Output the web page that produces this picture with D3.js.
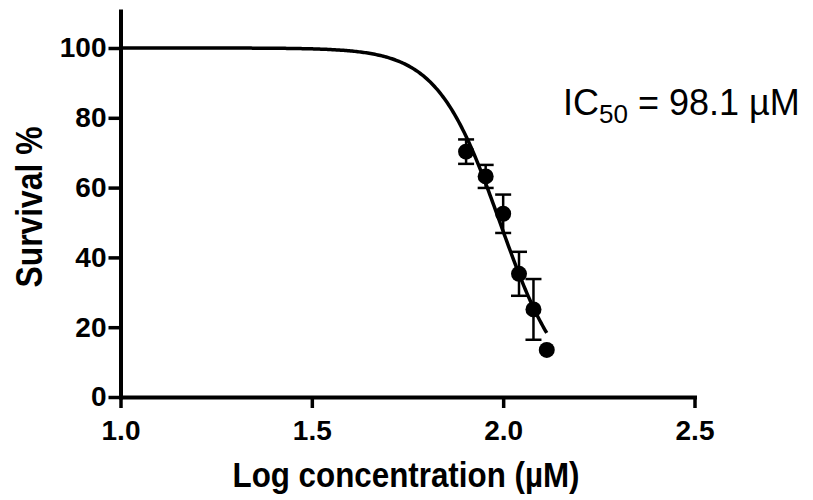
<!DOCTYPE html>
<html>
<head>
<meta charset="utf-8">
<script src="https://cdn.jsdelivr.net/npm/d3@7/dist/d3.min.js"></script>
<style>
  html, body { margin: 0; padding: 0; background: #fff; }
  svg { display: block; }
  text { font-family: "Liberation Sans", Arial, Helvetica, sans-serif; fill: #000; }
</style>
</head>
<body>
<svg id="chart" width="813" height="500"></svg>
<script>
// Tested concentrations (µM) and mean survival with SEM
const concentrations = [80, 90, 100, 110, 120, 130];
const survival = [70.3, 63.2, 52.5, 35.3, 25.1, 13.5];
const sem = [3.5, 3.3, 5.5, 6.3, 8.7, 0];

// Axis ticks
const xTicks = [1.0, 1.5, 2.0, 2.5];
const yTicks = [0, 20, 40, 60, 80, 100];

// Fitted dose-response parameters (four-parameter logistic)
const ic50 = 98.1;      // µM
const hillSlope = 5.3;
const topPlateau = 100;
const bottomPlateau = 0;

const svg = d3.select("#chart");

const x = d3.scaleLinear().domain([1.0, 2.5]).range([120.5, 694.5]);
const y = d3.scaleLinear().domain([0, 110.6]).range([397, 11]);

const logIC50 = Math.log10(ic50);
const response = lx => bottomPlateau + (topPlateau - bottomPlateau) /
  (1 + Math.pow(10, (lx - logIC50) * hillSlope));

// X axis
const xAxis = svg.append("g")
  .attr("transform", `translate(0,${y(0)})`)
  .call(d3.axisBottom(x).tickValues(xTicks).tickFormat(d3.format(".1f"))
    .tickSizeInner(11).tickSizeOuter(0).tickPadding(12));

// Y axis
const yAxis = svg.append("g")
  .attr("transform", `translate(${x(1.0)},0)`)
  .call(d3.axisLeft(y).tickValues(yTicks).tickFormat(d3.format("d"))
    .tickSizeInner(12).tickSizeOuter(0).tickPadding(2));

[xAxis, yAxis].forEach(g => {
  g.select(".domain").attr("stroke", "#000").attr("stroke-width", 4)
    .attr("stroke-linecap", "square");
  g.selectAll(".tick line").attr("stroke", "#000").attr("stroke-width", 3.5);
  g.selectAll(".tick text")
    .attr("font-family", "Liberation Sans, Arial, sans-serif")
    .attr("font-size", 28).attr("font-weight", "bold").attr("fill", "#000");
});

// Fitted curve across the tested range
const lxMin = 1.0, lxMax = Math.log10(d3.max(concentrations));
const curvePts = d3.range(0, 301).map(i => {
  const lx = lxMin + (lxMax - lxMin) * i / 300;
  return [lx, response(lx)];
});

const points = concentrations.map((c, i) => ({
  lx: Math.log10(c), v: survival[i], e: sem[i]
}));

// Error bars (SEM), skipped where the spread is nil
const eb = svg.append("g").attr("stroke", "#000").attr("stroke-width", 2.5);
points.filter(p => p.e > 0).forEach(p => {
  const cx = x(p.lx);
  eb.append("line").attr("x1", cx).attr("x2", cx)
    .attr("y1", y(p.v - p.e)).attr("y2", y(p.v + p.e));
  [p.v - p.e, p.v + p.e].forEach(v => {
    eb.append("line").attr("x1", cx - 8).attr("x2", cx + 8)
      .attr("y1", y(v)).attr("y2", y(v));
  });
});

svg.append("path")
  .datum(curvePts)
  .attr("fill", "none")
  .attr("stroke", "#000")
  .attr("stroke-width", 3.5)
  .attr("d", d3.line().x(d => x(d[0])).y(d => y(d[1])));

svg.append("g").selectAll("circle")
  .data(points)
  .join("circle")
  .attr("cx", d => x(d.lx))
  .attr("cy", d => y(d.v))
  .attr("r", 8)
  .attr("fill", "#000");

// Axis titles
svg.append("text")
  .attr("x", 406).attr("y", 487)
  .attr("text-anchor", "middle")
  .attr("font-size", 35).attr("font-weight", "bold")
  .attr("textLength", 347).attr("lengthAdjust", "spacingAndGlyphs")
  .text("Log concentration (µM)");

svg.append("text")
  .attr("transform", "translate(42,207) rotate(-90)")
  .attr("text-anchor", "middle")
  .attr("font-size", 37).attr("font-weight", "bold")
  .attr("textLength", 161).attr("lengthAdjust", "spacingAndGlyphs")
  .text("Survival %");

// IC50 annotation
const ann = svg.append("text")
  .attr("x", 563).attr("y", 115)
  .attr("font-size", 36);
ann.append("tspan").text("IC");
ann.append("tspan").attr("font-size", 26).attr("dy", 8).text("50");
ann.append("tspan").attr("dy", -8).text(` = ${ic50} µM`);
</script>
</body>
</html>
